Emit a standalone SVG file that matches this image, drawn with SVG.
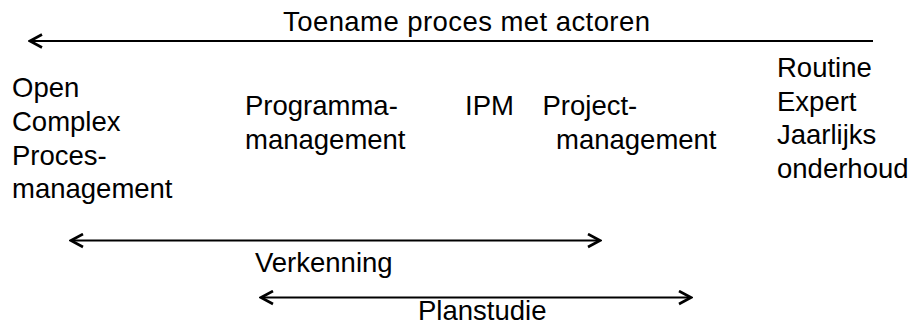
<svg xmlns="http://www.w3.org/2000/svg" width="908" height="334" viewBox="0 0 908 334">
  <style>
    text { font-family: "Liberation Sans", Arial, sans-serif; font-size: 27.5px; fill: #000; }
    .conn { stroke: #000; stroke-width: 2.2; fill: none; }
  </style>
  <defs>
    <marker id="arrow" markerUnits="userSpaceOnUse" viewBox="0 0 16 16" refX="14" refY="8" markerWidth="16" markerHeight="16" orient="auto-start-reverse">
      <path d="M2,1.5 L14,8 L2,14.5" fill="none" stroke="#000" stroke-width="2.6"/>
    </marker>
  </defs>
  <rect width="908" height="334" fill="#fff"/>

  <g id="connectors">
    <line class="conn" x1="873" y1="41" x2="30" y2="41" marker-end="url(#arrow)"/>
    <line class="conn" x1="71" y1="240.5" x2="600" y2="240.5" marker-start="url(#arrow)" marker-end="url(#arrow)"/>
    <line class="conn" x1="261" y1="297.5" x2="691" y2="297.5" marker-start="url(#arrow)" marker-end="url(#arrow)"/>
  </g>

  <g id="title">
    <text x="283" y="31" textLength="367" lengthAdjust="spacing">Toename proces met actoren</text>
  </g>

  <g id="open-complex">
    <text x="12" y="97">Open</text>
    <text x="12" y="131">Complex</text>
    <text x="12" y="164.5">Proces-</text>
    <text x="12" y="198">management</text>
  </g>

  <g id="programmamanagement">
    <text x="245" y="115">Programma-</text>
    <text x="245" y="148.5">management</text>
  </g>

  <g id="ipm">
    <text x="465" y="115">IPM</text>
  </g>

  <g id="projectmanagement">
    <text x="542.5" y="115">Project-</text>
    <text x="556" y="148.5">management</text>
  </g>

  <g id="routine-expert">
    <text x="777" y="77">Routine</text>
    <text x="777" y="110.5">Expert</text>
    <text x="777" y="144">Jaarlijks</text>
    <text x="777" y="177.5">onderhoud</text>
  </g>

  <g id="verkenning">
    <text x="255" y="272">Verkenning</text>
  </g>

  <g id="planstudie">
    <text x="418" y="319.5">Planstudie</text>
  </g>
</svg>
